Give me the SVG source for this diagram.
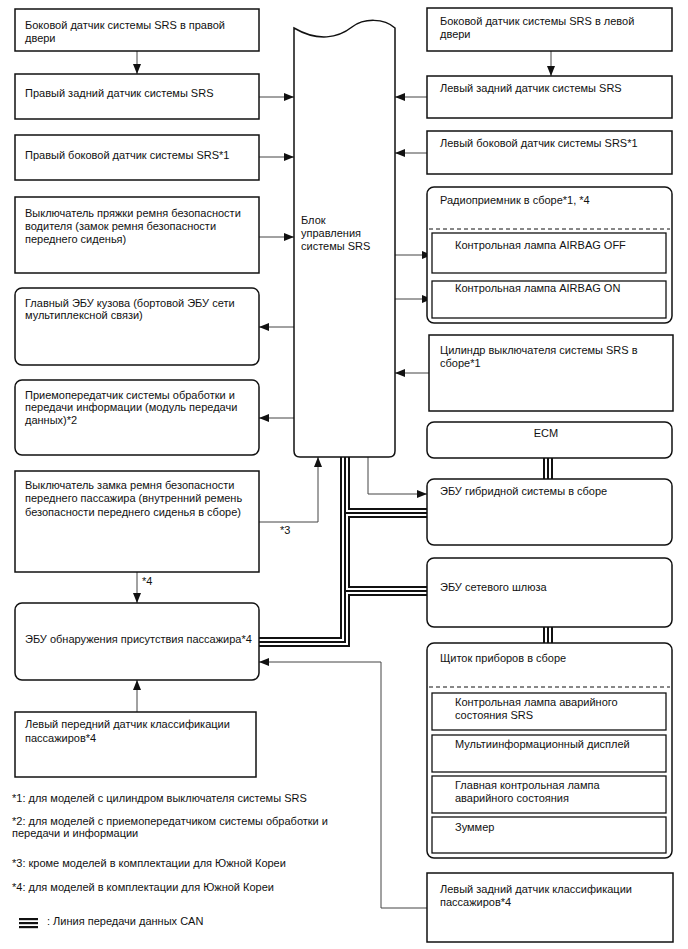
<svg xmlns="http://www.w3.org/2000/svg" width="688" height="949" viewBox="0 0 688 949">
<style>
text{font-family:"Liberation Sans",Arial,sans-serif;font-size:11px;fill:#111}
.b{fill:#fff;stroke:#111;stroke-width:1.5}
.i{fill:none;stroke:#111;stroke-width:1.3}
.c{fill:none;stroke:#444;stroke-width:1}
.d{fill:none;stroke:#111;stroke-width:1;stroke-dasharray:4,3}
.k1{fill:none;stroke:#111;stroke-width:10}
.k2{fill:none;stroke:#fff;stroke-width:6}
.k3{fill:none;stroke:#111;stroke-width:2}
</style>
<defs>
<marker id="a" viewBox="0 0 10 8" refX="10" refY="4" markerWidth="10" markerHeight="8" markerUnits="userSpaceOnUse" orient="auto">
<path d="M0,0 L10,4 L0,8 z" fill="#111"/>
</marker>
</defs>
<rect width="688" height="949" fill="#fff"/>

<g id="connectors">
<line class="c" x1="137" y1="51" x2="137" y2="74" marker-end="url(#a)"/>
<line class="c" x1="259" y1="97" x2="294" y2="97" marker-end="url(#a)"/>
<line class="c" x1="259" y1="157" x2="294" y2="157" marker-end="url(#a)"/>
<line class="c" x1="259" y1="237" x2="294" y2="237" marker-end="url(#a)"/>
<line class="c" x1="294" y1="327" x2="259" y2="327" marker-end="url(#a)"/>
<line class="c" x1="294" y1="418" x2="259" y2="418" marker-end="url(#a)"/>
<polyline class="c" points="259,522 318,522 318,457" marker-end="url(#a)"/>
<line class="c" x1="137" y1="572" x2="137" y2="603" marker-end="url(#a)"/>
<line class="c" x1="137" y1="712" x2="137" y2="680" marker-end="url(#a)"/>
<line class="c" x1="551" y1="51" x2="551" y2="76" marker-end="url(#a)"/>
<line class="c" x1="427" y1="97" x2="395" y2="97" marker-end="url(#a)"/>
<line class="c" x1="427" y1="153" x2="395" y2="153" marker-end="url(#a)"/>
<line class="c" x1="395" y1="255" x2="432" y2="255" marker-end="url(#a)"/>
<line class="c" x1="395" y1="299" x2="432" y2="299" marker-end="url(#a)"/>
<line class="c" x1="429" y1="373" x2="395" y2="373" marker-end="url(#a)"/>
<polyline class="c" points="368,457 368,494 427,494" marker-end="url(#a)"/>
<polyline class="c" points="427,908 381,908 381,662 259,662" marker-end="url(#a)"/>
<g id="can">
<path class="k1" d="M345,457 V642 H259 M345,513 H427 M345,591 H427 M548,458 V479 M548,627 V643"/>
<path class="k2" d="M345,457 V642 H259 M345,513 H427 M345,591 H427 M548,458 V479 M548,627 V643"/>
<path class="k3" d="M345,457 V642 H259 M345,513 H427 M345,591 H427 M548,458 V479 M548,627 V643"/>
</g>
</g>

<g id="srs-center">
<path class="b" d="M294,28 C318,42 338,38 352,27 C364,18 384,18 395,28 V451 Q395,457 389,457 H300 Q294,457 294,451 Z"/>
<text x="301" y="224">Блок</text>
<text x="301" y="237">управления</text>
<text x="301" y="250">системы SRS</text>
</g>

<g id="r-door-sensor">
<rect class="b" x="15" y="9" width="244" height="42"/>
<text x="25" y="29">Боковой датчик системы SRS в правой</text>
<text x="25" y="42">двери</text>
</g>
<g id="r-rear-sensor">
<rect class="b" x="15" y="74" width="244" height="45"/>
<text x="25" y="97">Правый задний датчик системы SRS</text>
</g>
<g id="r-side-sensor">
<rect class="b" x="15" y="135" width="244" height="45"/>
<text x="25" y="159">Правый боковой датчик системы SRS*1</text>
</g>
<g id="driver-buckle">
<rect class="b" x="15" y="197" width="244" height="76"/>
<text x="25" y="217">Выключатель пряжки ремня безопасности</text>
<text x="25" y="230">водителя (замок ремня безопасности</text>
<text x="25" y="243">переднего сиденья)</text>
</g>
<g id="main-body-ecu">
<rect class="b" x="15" y="288" width="244" height="77" rx="7"/>
<text x="25" y="307">Главный ЭБУ кузова (бортовой ЭБУ сети</text>
<text x="25" y="319">мультиплексной связи)</text>
</g>
<g id="transceiver">
<rect class="b" x="15" y="380" width="244" height="75" rx="7"/>
<text x="25" y="399">Приемопередатчик системы обработки и</text>
<text x="25" y="411">передачи информации (модуль передачи</text>
<text x="25" y="424">данных)*2</text>
</g>
<g id="pass-buckle">
<rect class="b" x="15" y="471" width="244" height="101"/>
<text x="25" y="489">Выключатель замка ремня безопасности</text>
<text x="25" y="502">переднего пассажира (внутренний ремень</text>
<text x="25" y="516">безопасности переднего сиденья в сборе)</text>
<text x="280" y="534">*3</text>
<text x="142" y="585">*4</text>
</g>
<g id="occupant-ecu">
<rect class="b" x="15" y="603" width="244" height="77" rx="7"/>
<text x="25" y="643">ЭБУ обнаружения присутствия пассажира*4</text>
</g>
<g id="lf-class-sensor">
<rect class="b" x="15" y="712" width="241" height="65"/>
<text x="25" y="728">Левый передний датчик классификации</text>
<text x="25" y="742">пассажиров*4</text>
</g>

<g id="l-door-sensor">
<rect class="b" x="427" y="8" width="245" height="43"/>
<text x="440" y="25">Боковой датчик системы SRS в левой</text>
<text x="440" y="38">двери</text>
</g>
<g id="l-rear-sensor">
<rect class="b" x="427" y="76" width="245" height="42"/>
<text x="440" y="92">Левый задний датчик системы SRS</text>
</g>
<g id="l-side-sensor">
<rect class="b" x="427" y="131" width="245" height="43"/>
<text x="440" y="147">Левый боковой датчик системы SRS*1</text>
</g>
<g id="radio">
<rect class="b" x="427" y="187" width="245" height="136" rx="7"/>
<text x="440" y="204">Радиоприемник в сборе*1, *4</text>
<line class="d" x1="429" y1="229" x2="670" y2="229"/>
<rect class="i" x="432" y="233" width="234" height="40"/>
<text x="455" y="249">Контрольная лампа AIRBAG OFF</text>
<rect class="i" x="432" y="281" width="234" height="37"/>
<text x="455" y="292">Контрольная лампа AIRBAG ON</text>
</g>
<g id="srs-cutoff">
<rect class="b" x="429" y="335" width="244" height="76"/>
<text x="440" y="354">Цилиндр выключателя системы SRS в</text>
<text x="440" y="367">сборе*1</text>
</g>
<g id="ecm">
<rect class="b" x="427" y="422" width="245" height="36" rx="7"/>
<text x="546" y="437" text-anchor="middle">ECM</text>
</g>
<g id="hybrid-ecu">
<rect class="b" x="427" y="479" width="245" height="66" rx="7"/>
<text x="440" y="495">ЭБУ гибридной системы в сборе</text>
</g>
<g id="gateway-ecu">
<rect class="b" x="427" y="558" width="245" height="69" rx="7"/>
<text x="440" y="591">ЭБУ сетевого шлюза</text>
</g>
<g id="cluster">
<rect class="b" x="427" y="643" width="245" height="215" rx="7"/>
<text x="440" y="662">Щиток приборов в сборе</text>
<line class="d" x1="429" y1="687" x2="670" y2="687"/>
<rect class="i" x="432" y="693" width="234" height="37"/>
<text x="455" y="706">Контрольная лампа аварийного</text>
<text x="455" y="719">состояния SRS</text>
<rect class="i" x="432" y="735" width="234" height="37"/>
<text x="455" y="748">Мультиинформационный дисплей</text>
<rect class="i" x="432" y="776" width="234" height="37"/>
<text x="455" y="789">Главная контрольная лампа</text>
<text x="455" y="802">аварийного состояния</text>
<rect class="i" x="432" y="817" width="234" height="36"/>
<text x="455" y="831">Зуммер</text>
</g>
<g id="lr-class-sensor">
<rect class="b" x="427" y="873" width="246" height="69"/>
<text x="440" y="893">Левый задний датчик классификации</text>
<text x="440" y="906">пассажиров*4</text>
</g>

<g id="notes">
<text x="12" y="802">*1: для моделей с цилиндром выключателя системы SRS</text>
<text x="12" y="825">*2: для моделей с приемопередатчиком системы обработки и</text>
<text x="12" y="837">передачи и информации</text>
<text x="12" y="867">*3: кроме моделей в комплектации для Южной Кореи</text>
<text x="12" y="891">*4: для моделей в комплектации для Южной Кореи</text>
<rect x="19" y="918" width="19" height="2.2" fill="#111"/>
<rect x="19" y="922" width="19" height="2.2" fill="#111"/>
<rect x="19" y="926" width="19" height="2.2" fill="#111"/>
<text x="47" y="925">: Линия передачи данных CAN</text>
</g>
</svg>
